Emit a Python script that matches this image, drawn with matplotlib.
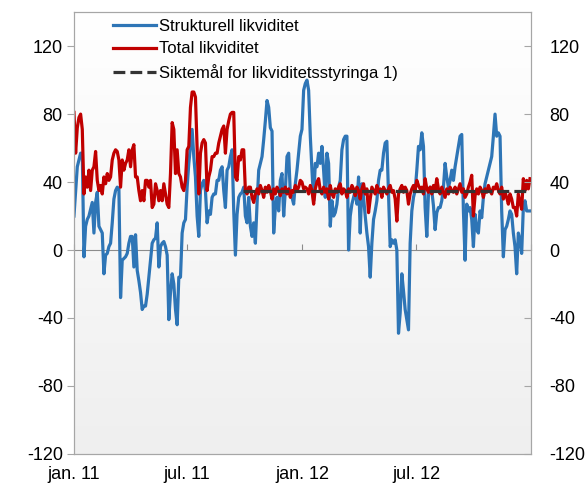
import matplotlib
matplotlib.use('Agg')
import matplotlib.pyplot as plt
import matplotlib.dates as mdates
import numpy as np
import pandas as pd

plt.rcParams['font.family'] = ['Liberation Sans', 'DejaVu Sans']
plt.rcParams['axes.unicode_minus'] = False

# Strukturell likviditet (mrd. kr), jan. 2011 - des. 2012
blue = [
    20, 35, 49, 53, 57, 57, -4, 14, 18, 20, 24, 28, 10, 28, 34, 14, 12, 10, -14, -3,
    -2, 2, 4, 16, 30, 35, 37, 36, -28, -6, -5, -4, -2, 4, 8, 8, -10, 9, -12, -18,
    -25, -35, -33, -33, -26, -16, -6, 4, 6, 7, 16, -10, 2, 4, 5, 2, -3, -41, -25, -14,
    -20, -35, -44, -16, -16, 10, 16, 18, 37, 51, 61,
    71, 55, 43, 20, 8, 35, 39, 41, 35, 16, 23, 21, 31, 33, 33, 41, 41, 47, 49, 35,
    25, 47, 49, 55, 59, 23, -3, 21, 31, 33, 34, 37, 20, 16, 31, 14, 8, 16, 4, 27,
    47, 51, 55, 65, 76, 88, 84, 72, 70, 10, 25, 31, 23, 41, 45, 20, 35, 55, 57, 33,
    31, 27, 39, 47, 57, 67, 71, 94, 98,
    100, 94, 67, 47, 29, 51, 49, 57, 51, 61, 47, 31, 57, 51, 14, 29, 20, 22, 27, 37,
    41, 59, 65, 67, 67, 0, 20, 27, 31, 35, 27, 43, 10, 39, 31, 20, 10, 2, -16, 4,
    18, 23, 29, 41, 47, 47, 57, 63, 64, 33, 2, 6, 4, 6, 0, -49, -37, -14, -24, -35,
    -41, -47, 4, 23, 31, 35, 47, 61, 59,
    69, 61, 25, 8, 33, 37, 35, 26, 12, 22, 25, 25, 29, 37, 51, 43, 37, 41, 47, 41,
    49, 55, 61, 67, 68, 23, -6, 27, 23, 25, 18, 2, 21, 12, 10, 23, 19, 31, 39, 43,
    47, 51, 55, 67, 80, 67, 69, 67, 23, -4, 12, 14, 18, 23, 21, 10, 2, -14, 10, 6,
    -2, 25, 29, 23, 23, 23,
]

# Total likviditet (mrd. kr)
red = [
    81, 57, 72, 78, 80, 71, 33, 43, 37, 47, 35, 47, 49, 58, 41, 35, 38, 33, 43, 39,
    45, 41, 43, 53, 57, 59, 58, 53, 37, 53, 47, 51, 53, 59, 49, 59, 62, 43, 43, 35,
    29, 35, 29, 41, 41, 37, 41, 25, 27, 39, 35, 29, 35, 29, 39, 33, 27, 25, 45, 75,
    71, 45, 59, 45, 43, 37, 35, 41, 59, 61, 84,
    93, 93, 90, 60, 33, 57, 63, 65, 63, 35, 43, 47, 55, 55, 57, 57, 63, 67, 71, 73,
    57, 71, 76, 80, 81, 81, 43, 41, 55, 53, 59, 59, 35, 33, 37, 37, 31, 28, 33, 36,
    33, 38, 35, 31, 37, 34, 38, 35, 30, 36, 33, 37, 35, 32, 36, 34, 37, 33, 36, 31,
    35, 34, 38, 35, 37, 41, 40, 36, 37,
    36, 33, 38, 35, 27, 36, 40, 42, 35, 33, 37, 34, 36, 30, 38, 33, 31, 36, 34, 37,
    39, 33, 36, 35, 31, 36, 34, 38, 36, 32, 37, 35, 30, 36, 39, 33, 36, 22, 30, 37,
    35, 33, 38, 34, 36, 31, 37, 35, 33, 36, 38, 34, 35, 30, 17, 33, 36, 38, 34, 37,
    35, 27, 33, 36, 38, 35, 41, 38, 36,
    37, 33, 42, 36, 34, 37, 33, 38, 35, 42, 36, 33, 37, 34, 31, 36, 33, 37, 35, 34,
    37, 33, 36, 39, 34, 36, 31, 33, 37, 40, 44, 20, 32, 36, 33, 37, 35, 31, 36, 34,
    38, 35, 33, 37, 36, 39, 35, 33, 37, 30, 34, 31, 27, 33, 30, 25, 25, 20, 33, 28,
    24, 42, 35, 41, 36, 42,
]

dates = pd.date_range('2011-01-01', '2012-12-30', periods=len(blue))

# Siktemål for likviditetsstyringa
target_dates = pd.to_datetime(['2011-09-28', '2012-12-31'])
target = [35, 35]

yticks = [-120, -80, -40, 0, 40, 80, 120]
xtick_dates = pd.to_datetime(['2011-01-01', '2011-07-01', '2012-01-01', '2012-07-01'])
xtick_labels = ['jan. 11', 'jul. 11', 'jan. 12', 'jul. 12']
x_start, x_end = pd.Timestamp('2011-01-01'), pd.Timestamp('2013-01-01')

fig = plt.figure(figsize=(5.87, 4.87), dpi=100)
ax = fig.add_axes([0.126, 0.068, 0.779, 0.907])

grey = '#a6a6a6'

# background gradient white -> light grey
grad = np.linspace(1, 0, 256).reshape(-1, 1)
ax.imshow(grad, extent=[0, 1, 0, 1], transform=ax.transAxes, aspect='auto',
          cmap=matplotlib.colors.LinearSegmentedColormap.from_list('bg', ['#efefef', '#ffffff']),
          zorder=0)

ax.plot(dates, blue, color='#2e75b6', lw=2.3, label='Strukturell likviditet', zorder=3)
ax.plot(dates, red, color='#c00000', lw=2.3, label='Total likviditet', zorder=4)
ax.plot(target_dates, target, color='#333333', lw=2.3, ls='--',
        label='Siktemål for likviditetsstyringa 1)', zorder=5)

ax.set_xlim(x_start, x_end)
ax.set_ylim(-120, 140)
ax.set_yticks(yticks)
ax.set_xticks(xtick_dates, xtick_labels)
ax.tick_params(axis='x', length=0, pad=9, labelsize=13)
ax.tick_params(axis='y', direction='out', length=5, color=grey, pad=3, labelsize=13)
for s in ax.spines.values():
    s.set_color(grey)

# zero line carrying the x tick marks
sec = ax.secondary_xaxis(120 / 260)
sec.set_xticks(mdates.date2num(list(xtick_dates) + [x_end]))
sec.tick_params(direction='in', length=4, color='#8c8c8c', labelbottom=False)
sec.spines['bottom'].set_color('#8c8c8c')

ax2 = ax.twinx()
ax2.set_ylim(-120, 140)
ax2.set_yticks(yticks)
ax2.tick_params(axis='y', direction='in', length=5, color=grey, pad=13, labelsize=13)
for s in ax2.spines.values():
    s.set_color(grey)

ax.legend(loc='upper left', bbox_to_anchor=(0.07, 1.0), frameon=False, fontsize=12,
          handlelength=2.6, handletextpad=0.2, labelspacing=0.45, borderaxespad=0)

fig.savefig('out.png', dpi=100)
